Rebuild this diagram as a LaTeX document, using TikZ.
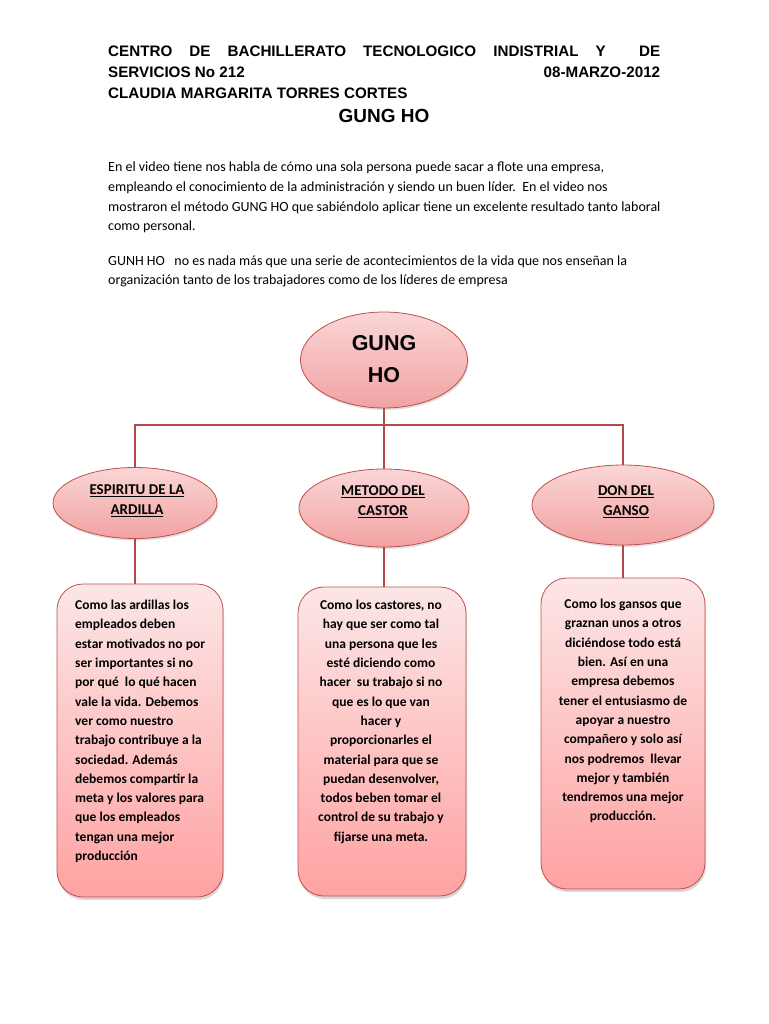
\documentclass[tikz,border=0pt]{standalone}
\usepackage{fontspec}
\setmainfont{Carlito}
\newfontfamily\arialfont{Liberation Sans}
\usetikzlibrary{shapes.geometric,shadows}
\definecolor{edgered}{HTML}{C0504D}
\definecolor{linered}{HTML}{B24A48}
\definecolor{elltop}{HTML}{FAD6D6}
\definecolor{ellbot}{HTML}{F2A2A2}
\definecolor{boxtop}{HTML}{FCE6E6}
\definecolor{boxbot}{HTML}{FFA2A2}
\tikzset{
  hdr/.style={anchor=base west,inner sep=0,font=\arialfont\bfseries\fontsize{15.2}{17}\selectfont},
  para/.style={anchor=base west,inner sep=0,font=\fontsize{14}{16}\selectfont},
  ell/.style={ellipse,draw=edgered,line width=0.8pt,top color=elltop,bottom color=ellbot,inner sep=0,
    drop shadow={opacity=0.25,shadow xshift=1pt,shadow yshift=-2pt}},
  rbox/.style={rectangle,rounded corners=26pt,draw=edgered,line width=0.8pt,top color=boxtop,bottom color=boxbot,inner sep=0,
    drop shadow={opacity=0.3,shadow xshift=1pt,shadow yshift=-3pt}},
  elab/.style={inner sep=0,align=center,font=\bfseries\fontsize{15}{20}\selectfont},
  btxt/.style={inner sep=0,anchor=north,font=\bfseries\fontsize{13.5}{19.3}\selectfont},
  conn/.style={draw=linered,line width=2.6pt}
}
\begin{document}
\begin{tikzpicture}[x=1pt,y=-1pt]
\useasboundingbox[fill=white] (0,0) rectangle (768,1024);
% header
\node[hdr] (h1) at (108,57) {\hbox to 552pt{CENTRO\hfill DE\hfill BACHILLERATO\hfill TECNOLOGICO\hfill INDISTRIAL\hfill Y\hfill\hspace*{12pt} DE}};
\node[hdr] (h2) at (108,78) {\hbox to 552pt{SERVICIOS No 212\hfill 08-MARZO-2012}};
\node[hdr] (h3) at (108,99) {CLAUDIA MARGARITA TORRES CORTES};
\node[inner sep=0,anchor=base,font=\arialfont\bfseries\fontsize{19}{21}\selectfont] (title) at (384,123) {GUNG HO};
% paragraphs
\node[para] (p1) at (108,172) {En el video tiene nos habla de cómo una sola persona puede sacar a flote una empresa,};
\node[para] (p2) at (108,192) {empleando el conocimiento de la administración y siendo un buen líder.\ \ En el video nos};
\node[para] (p3) at (108,212) {mostraron el método GUNG HO que sabiéndolo aplicar tiene un excelente resultado tanto laboral};
\node[para] (p4) at (108,231) {como personal.};
\node[para] (p5) at (108,265) {GUNH HO\ \ \ no es nada más que una serie de acontecimientos de la vida que nos enseñan la};
\node[para] (p6) at (108,284) {organización tanto de los trabajadores como de los líderes de empresa};
% main ellipse
\node[ell,minimum width=167pt,minimum height=96pt] (gh) at (384,360) {};
\node[inner sep=0,align=center,font=\arialfont\bfseries\fontsize{21.5}{32}\selectfont] (ghl) at (384,359) {GUNG\\HO};
% sub ellipses
\node[ell,minimum width=164pt,minimum height=71pt] (e1) at (135,503) {};
\node[ell,minimum width=170pt,minimum height=78pt] (e2) at (384,508) {};
\node[ell,minimum width=182pt,minimum height=80pt] (e3) at (623,505) {};
\node[elab] (l1) at (137,501) {\underline{ESPIRITU DE LA}\\\underline{ARDILLA}};
\node[elab] (l2) at (383,502) {\underline{METODO DEL}\\\underline{CASTOR}};
\node[elab] (l3) at (626,502) {\underline{DON DEL}\\\underline{GANSO}};
% boxes
\node[rbox,minimum width=166pt,minimum height=313pt] (b1) at (140,740.5) {};
\node[rbox,minimum width=168pt,minimum height=309pt] (b2) at (382,741.5) {};
\node[rbox,minimum width=164pt,minimum height=311pt] (b3) at (623,733.5) {};
% connectors
\coordinate (bus) at (384,425);
\draw[conn] (gh.south) -- (e2.north);
\draw[conn] (e1.north) -- (e1.north |- bus) -- (e3.north |- bus) -- (e3.north);
\draw[conn] (e1.south) -- (b1.north -| e1.south);
\draw[conn] (e2.south) -- (b2.north -| e2.south);
\draw[conn] (e3.south) -- (b3.north -| e3.south);
% box texts
\node[btxt,align=left,anchor=north west] (t1) at (75,600) {Como las ardillas los\\empleados deben\\estar motivados no por\\ser importantes si no\\por qué\ \ lo qué hacen\\vale la vida. Debemos\\ver como nuestro\\trabajo contribuye a la\\sociedad. Además\\debemos compartir la\\meta y los valores para\\que los empleados\\tengan una mejor\\producción};
\node[btxt,align=center] (t2) at (381,600) {Como los castores, no\\hay que ser como tal\\una persona que les\\esté diciendo como\\hacer\ \ su trabajo si no\\que es lo que van\\hacer y\\proporcionarles el\\material para que se\\puedan desenvolver,\\todos beben tomar el\\control de su trabajo y\\fijarse una meta.};
\node[btxt,align=center] (t3) at (623,599) {Como los gansos que\\graznan unos a otros\\diciéndose todo está\\bien. Así en una\\empresa debemos\\tener el entusiasmo de\\apoyar a nuestro\\compañero y solo así\\nos podremos\ \ llevar\\mejor y también\\tendremos una mejor\\producción.};
\end{tikzpicture}
\end{document}
